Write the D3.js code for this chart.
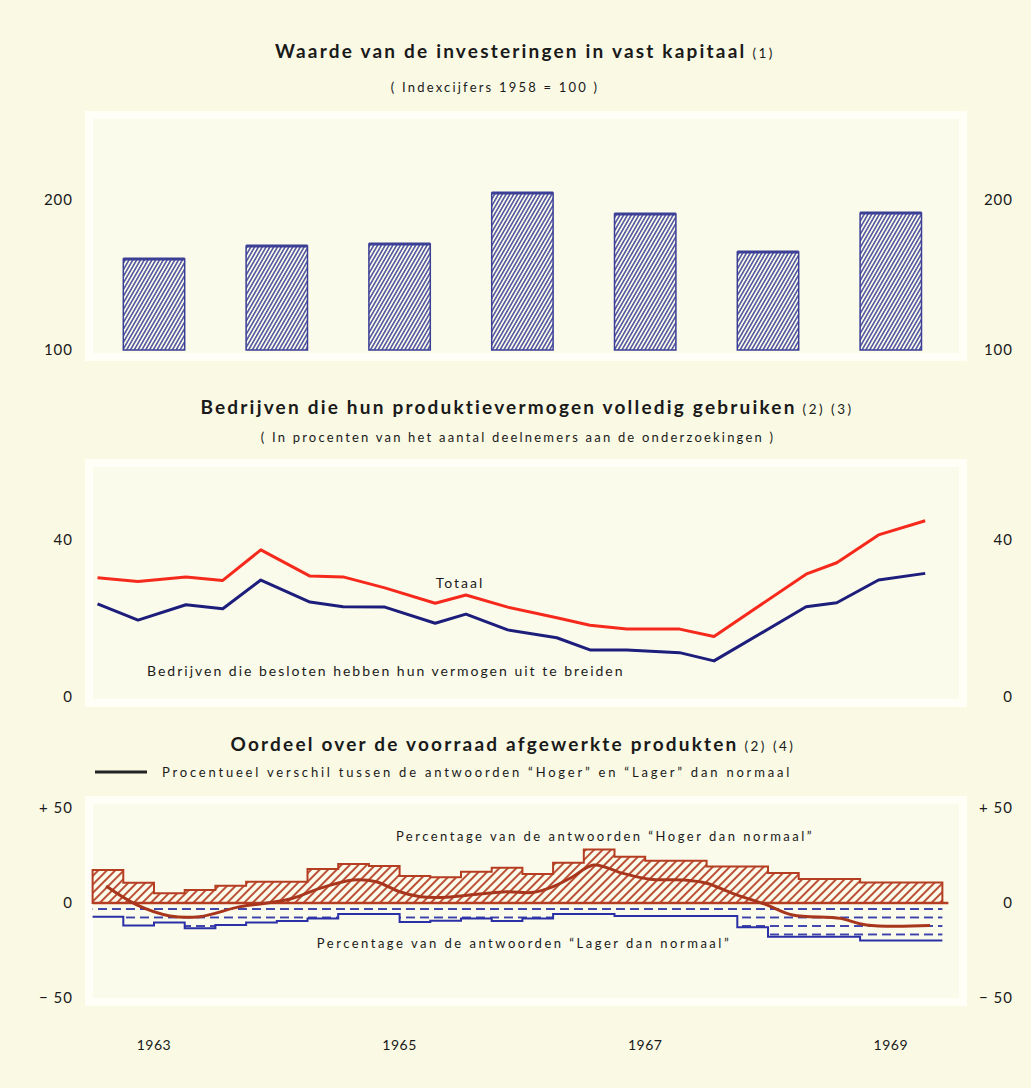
<!DOCTYPE html>
<html>
<head>
<meta charset="utf-8">
<script src="https://cdn.jsdelivr.net/npm/d3@7"></script>
<style>
  body { margin: 0; background: #f9f9e4; }
  text { font-family: Lato, "Open Sans", sans-serif; fill: #1a1a1a; }
  .titel { font-size: 19px; font-weight: 700; letter-spacing: 2.2px; }
  .klein { font-size: 13px; letter-spacing: 2.2px; }
  .as text { font-size: 15px; letter-spacing: 1px; }
</style>
</head>
<body>
<svg id="grafiek" width="1031" height="1088"></svg>
<script>
// bovenste grafiek: investeringen in vast kapitaal (1958 = 100)
var jaren = [1963, 1964, 1965, 1966, 1967, 1968, 1969];
var investeringen = [160.7, 169.3, 170.7, 204.7, 190.7, 165.3, 191.3];

// middelste grafiek: data per enquete (decimaal jaartal)
var peilingen = [1963.04, 1963.37, 1963.76, 1964.06, 1964.37, 1964.77, 1965.04, 1965.38, 1965.79, 1966.04,
                 1966.38, 1966.78, 1967.05, 1967.35, 1967.78, 1968.06, 1968.81, 1969.06, 1969.40, 1969.78];
var totaal = [30.4, 29.4, 30.6, 29.7, 37.5, 30.8, 30.6, 27.8, 23.9, 26.0,
              22.9, 20.2, 18.3, 17.3, 17.3, 15.4, 31.3, 34.2, 41.3, 44.9];
var uitbreiden = [23.7, 19.6, 23.5, 22.5, 29.8, 24.2, 23.0, 22.9, 18.8, 21.1,
                  17.1, 15.1, 12.0, 12.0, 11.3, 9.2, 23.0, 24.0, 29.8, 31.5];

// onderste grafiek: per kwartaal
var kwartalen = d3.range(1963, 1970, 0.25);
var hoger = [17.4, 10.7, 5.1, 6.8, 9.1, 11.2, 11.2, 17.9, 20.5, 19.5, 14.2, 13.5, 16.5, 18.6,
             15.3, 21.2, 28.2, 24.4, 22.3, 22.3, 19.2, 19.2, 15.8, 12.6, 12.6, 10.8, 10.8, 10.8];
var lager = [-7.2, -11.9, -10.2, -13.3, -11.6, -10.2, -9.5, -8.1, -5.8, -5.8, -10.0, -9.3, -8.2, -9.5,
             -8.1, -5.8, -5.8, -6.8, -6.8, -6.8, -6.8, -12.8, -17.7, -17.7, -17.7, -19.8, -19.8, -19.8];
var eindeKwartalen = 1969.92;

// procentueel verschil (vloeiende lijn)
var verschilData = [1963.11, 1963.36, 1963.63, 1963.87, 1964.20, 1964.42, 1964.63, 1964.85, 1965.12, 1965.31,
                    1965.50, 1965.67, 1965.88, 1966.15, 1966.37, 1966.59, 1966.75, 1966.91, 1967.08, 1967.32,
                    1967.54, 1967.81, 1968.00, 1968.21, 1968.49, 1968.70, 1969.09, 1969.30, 1969.82];
var verschil = [8.9, -1.0, -6.8, -7.2, -1.9, 0.0, 2.5, 7.7, 12.1, 11.2,
                5.9, 3.3, 3.0, 4.7, 5.9, 5.6, 8.6, 13.8, 20.0, 15.6,
                12.5, 12.1, 10.4, 5.1, -1.0, -6.3, -8.1, -11.6, -11.9];

var jaarLabels = [1963, 1965, 1967, 1969];

var svg = d3.select("#grafiek");

var blauw = "#3b3f96";
var roest = "#b53d22";

// patronen voor de arceringen
var defs = svg.append("defs");
defs.append("pattern")
    .attr("id", "arceringBlauw")
    .attr("patternUnits", "userSpaceOnUse")
    .attr("width", 3.3).attr("height", 10)
    .attr("patternTransform", "rotate(30)")
  .append("line")
    .attr("x1", 0.8).attr("y1", 0).attr("x2", 0.8).attr("y2", 10)
    .attr("stroke", blauw).attr("stroke-width", 1.4);

defs.append("pattern")
    .attr("id", "arceringRood")
    .attr("patternUnits", "userSpaceOnUse")
    .attr("width", 6).attr("height", 10)
    .attr("patternTransform", "rotate(45)")
  .append("line")
    .attr("x1", 1).attr("y1", 0).attr("x2", 1).attr("y2", 10)
    .attr("stroke", roest).attr("stroke-width", 1.8);

defs.append("pattern")
    .attr("id", "streepjes")
    .attr("patternUnits", "userSpaceOnUse")
    .attr("width", 14).attr("height", 8.5)
    .attr("patternTransform", "translate(0,908)")
  .append("line")
    .attr("x1", 0).attr("y1", 1).attr("x2", 9).attr("y2", 1)
    .attr("stroke", "#2f35a8").attr("stroke-width", 1.8);

// gemeenschappelijke tijdschaal
var x = d3.scaleLinear().domain([1963, 1970]).range([92.6, 952.2]);

// panelen met witte rand
[[111, 361], [459, 707], [796, 1006]].forEach(function(p) {
  svg.append("rect")
     .attr("x", 89).attr("y", p[0] + 4)
     .attr("width", 874).attr("height", p[1] - p[0] - 8)
     .attr("fill", "#fbfbeb")
     .attr("stroke", "#fffff8")
     .attr("stroke-width", 8);
});

// titels
function titel(tekst, extra, y, cx) {
  var t = svg.append("text").attr("class", "titel")
             .attr("x", cx).attr("y", y).attr("text-anchor", "middle");
  t.append("tspan").text(tekst);
  t.append("tspan").attr("font-size", "13.5px").attr("font-weight", 400)
   .attr("letter-spacing", "2.5px").text(" " + extra);
}
titel("Waarde van de investeringen in vast kapitaal", "(1)", 58, 525);
svg.append("text").attr("class", "klein").attr("x", 495).attr("y", 92)
   .attr("text-anchor", "middle").attr("letter-spacing", "1.9px")
   .text("( Indexcijfers 1958 = 100 )");

titel("Bedrijven die hun produktievermogen volledig gebruiken", "(2) (3)", 414, 527);
svg.append("text").attr("class", "klein").attr("x", 518).attr("y", 442)
   .attr("text-anchor", "middle")
   .text("( In procenten van het aantal deelnemers aan de onderzoekingen )");

titel("Oordeel over de voorraad afgewerkte produkten", "(2)  (4)", 751, 513);

// ---------- bovenste grafiek: staven ----------
var yInv = d3.scaleLinear().domain([100, 200]).range([350, 200]);

svg.selectAll(".staaf")
   .data(investeringen)
   .enter()
   .append("rect")
   .attr("class", "staaf")
   .attr("x", function(d, i) { return x(jaren[i] + 0.25); })
   .attr("width", function(d, i) { return x(jaren[i] + 0.75) - x(jaren[i] + 0.25); })
   .attr("y", function(d) { return yInv(d); })
   .attr("height", function(d) { return yInv(100) - yInv(d); })
   .attr("fill", "url(#arceringBlauw)")
   .attr("stroke", blauw)
   .attr("stroke-width", 1.5);

svg.selectAll(".staafTop")
   .data(investeringen)
   .enter()
   .append("line")
   .attr("x1", function(d, i) { return x(jaren[i] + 0.25); })
   .attr("x2", function(d, i) { return x(jaren[i] + 0.75); })
   .attr("y1", function(d) { return yInv(d); })
   .attr("y2", function(d) { return yInv(d); })
   .attr("stroke", blauw)
   .attr("stroke-width", 3);

// assen links en rechts
function assen(schaal, waarden, formaat) {
  [73, 1013].forEach(function(xPos) {
    svg.append("g")
       .attr("class", "as")
       .attr("transform", "translate(" + xPos + ",0)")
       .call(d3.axisLeft(schaal).tickValues(waarden).tickSize(0).tickPadding(0).tickFormat(formaat))
       .call(function(g) { g.select(".domain").remove(); });
  });
}
assen(yInv, [100, 200], d3.format("d"));

// ---------- middelste grafiek: lijnen ----------
var yCap = d3.scaleLinear().domain([0, 40]).range([697, 540]);

var lijn = d3.line()
             .x(function(d) { return x(d[0]); })
             .y(function(d) { return yCap(d[1]); });

svg.append("path")
   .datum(d3.zip(peilingen, uitbreiden))
   .attr("d", lijn)
   .attr("fill", "none")
   .attr("stroke", "#1d1d7c")
   .attr("stroke-width", 3)
   .attr("stroke-linejoin", "round");

svg.append("path")
   .datum(d3.zip(peilingen, totaal))
   .attr("d", lijn)
   .attr("fill", "none")
   .attr("stroke", "#f52a1c")
   .attr("stroke-width", 3)
   .attr("stroke-linejoin", "round");

assen(yCap, [0, 40], d3.format("d"));

svg.append("text").attr("x", 460).attr("y", 588).attr("text-anchor", "middle")
   .attr("font-size", "14px").attr("letter-spacing", "2px").text("Totaal");
svg.append("text").attr("x", 147).attr("y", 676)
   .attr("font-size", "14px").attr("letter-spacing", "2px")
   .text("Bedrijven die besloten hebben hun vermogen uit te breiden");

// ---------- onderste grafiek: voorraad ----------
var yVoorraad = d3.scaleLinear().domain([-50, 50]).range([998, 808]);

// legenda
svg.append("line").attr("x1", 95).attr("x2", 147).attr("y1", 772).attr("y2", 772)
   .attr("stroke", "#222").attr("stroke-width", 3);
svg.append("text").attr("x", 162).attr("y", 777)
   .attr("font-size", "13px").attr("letter-spacing", "2.8px")
   .text("Procentueel verschil tussen de antwoorden \u201CHoger\u201D en \u201CLager\u201D dan normaal");

// stappen per kwartaal, met een eindpunt
var stapHoger = kwartalen.map(function(k, i) { return [k, hoger[i]]; });
stapHoger.push([eindeKwartalen, hoger[hoger.length - 1]]);
var stapLager = kwartalen.map(function(k, i) { return [k, lager[i]]; });
stapLager.push([eindeKwartalen, lager[lager.length - 1]]);

var stapVlak = d3.area()
                 .curve(d3.curveStepAfter)
                 .x(function(d) { return x(d[0]); })
                 .y0(yVoorraad(0))
                 .y1(function(d) { return yVoorraad(d[1]); });

var stapLijn = d3.line()
                 .curve(d3.curveStepAfter)
                 .x(function(d) { return x(d[0]); })
                 .y(function(d) { return yVoorraad(d[1]); });

// "lager dan normaal": gestreepte lijnen binnen het vlak
svg.append("path")
   .datum(stapLager)
   .attr("d", stapVlak)
   .attr("fill", "url(#streepjes)");

svg.append("path")
   .datum(stapLager)
   .attr("d", stapLijn)
   .attr("fill", "none")
   .attr("stroke", "#2b30a6")
   .attr("stroke-width", 2);

// "hoger dan normaal": gearceerd vlak
svg.append("path")
   .datum(stapHoger)
   .attr("d", stapVlak)
   .attr("fill", "url(#arceringRood)")
   .attr("stroke", roest)
   .attr("stroke-width", 2);

// nullijn
svg.append("line")
   .attr("x1", x(1963)).attr("x2", x(eindeKwartalen) + 6)
   .attr("y1", yVoorraad(0)).attr("y2", yVoorraad(0))
   .attr("stroke", roest).attr("stroke-width", 2.5);

// verschil als vloeiende lijn
svg.append("path")
   .datum(d3.zip(verschilData, verschil))
   .attr("d", d3.line()
                .curve(d3.curveCatmullRom)
                .x(function(d) { return x(d[0]); })
                .y(function(d) { return yVoorraad(d[1]); }))
   .attr("fill", "none")
   .attr("stroke", "#a8361d")
   .attr("stroke-width", 3);

assen(yVoorraad, [-50, 0, 50], function(d) {
  if (d > 0) return "+ " + d;
  if (d < 0) return "\u2212 " + Math.abs(d);
  return "0";
});

svg.append("text").attr("x", 605).attr("y", 841).attr("text-anchor", "middle")
   .attr("font-size", "13px").attr("letter-spacing", "2.5px")
   .text("Percentage van de antwoorden \u201CHoger dan normaal\u201D");
svg.append("text").attr("x", 524).attr("y", 948).attr("text-anchor", "middle")
   .attr("font-size", "13px").attr("letter-spacing", "2.5px")
   .text("Percentage van de antwoorden \u201CLager dan normaal\u201D");

// jaartallen onder de grafiek
svg.selectAll(".jaar")
   .data(jaarLabels)
   .enter()
   .append("text")
   .attr("class", "jaar")
   .attr("x", function(d) { return x(d + 0.5); })
   .attr("y", 1050)
   .attr("text-anchor", "middle")
   .attr("font-size", "14px")
   .attr("letter-spacing", "0.5px")
   .text(function(d) { return d; });
</script>
</body>
</html>
